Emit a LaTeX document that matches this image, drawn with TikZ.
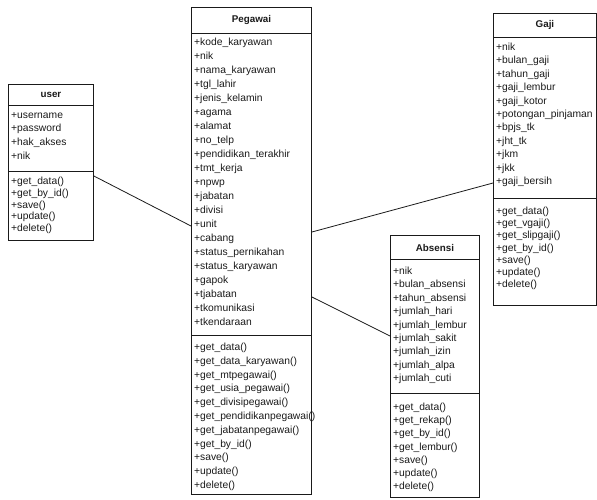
\documentclass[tikz,border=0pt]{standalone}
\usepackage{fontspec}
\setmainfont{Liberation Sans}
\usepackage{xcolor}
\usetikzlibrary{calc}
\definecolor{ink}{HTML}{1A1A1A}
\tikzset{
  cls/.style={draw=ink, line width=0.9pt, anchor=north west, inner sep=0pt},
  sep/.style={draw=ink, line width=0.9pt},
  assoc/.style={draw=ink, line width=0.8pt},
  head/.style={font=\bfseries\fontsize{9.8}{11}\selectfont, text=ink},
  lst/.style={anchor=north west, inner sep=0pt, align=left, text=ink,
    font=\fontsize{10.3}{#1}\selectfont, execute at begin node=\rule{0pt}{7.8pt}}
}

\begin{document}
\begin{tikzpicture}[x=1pt,y=-1pt]
  \useasboundingbox (0,0) rectangle (597,499);

  % class boxes
  \node[cls, minimum width=85pt,  minimum height=156pt] (user)    at (8,84)    {};
  \node[cls, minimum width=120pt, minimum height=487pt] (pegawai) at (191,7)   {};
  \node[cls, minimum width=103pt, minimum height=292pt] (gaji)    at (493,13)  {};
  \node[cls, minimum width=89pt,  minimum height=262pt] (absensi) at (390,235) {};

  % compartments
  \draw[sep] ($(user.north west)+(0,21)$) -- ($(user.north east)+(0,21)$);
  \draw[sep] ($(user.north west)+(0,87)$) -- ($(user.north east)+(0,87)$);
  \draw[sep] ($(pegawai.north west)+(0,26)$) -- ($(pegawai.north east)+(0,26)$);
  \draw[sep] ($(pegawai.north west)+(0,328)$) -- ($(pegawai.north east)+(0,328)$);
  \draw[sep] ($(gaji.north west)+(0,24)$) -- ($(gaji.north east)+(0,24)$);
  \draw[sep] ($(gaji.north west)+(0,185)$) -- ($(gaji.north east)+(0,185)$);
  \draw[sep] ($(absensi.north west)+(0,24)$) -- ($(absensi.north east)+(0,24)$);
  \draw[sep] ($(absensi.north west)+(0,158)$) -- ($(absensi.north east)+(0,158)$);

  % names
  \node[head] (user-t)    at ($(user.north)+(0,11)$)    {user};
  \node[head] (pegawai-t) at ($(pegawai.north)+(0,13)$) {Pegawai};
  \node[head] (gaji-t)    at ($(gaji.north)+(0,12)$)    {Gaji};
  \node[head] (absensi-t) at ($(absensi.north)+(0,13)$) {Absensi};

  % user
  \node[lst=13.9] (user-a) at (11,111.9) {+username\\+password\\+hak\_akses\\+nik};
  \node[lst=11.8] (user-m) at (11,176.9) {+get\_data()\\+get\_by\_id()\\+save()\\+update()\\+delete()};

  % pegawai
  \node[lst=14.0] (pegawai-a) at (194,37.9) {+kode\_karyawan\\+nik\\+nama\_karyawan\\+tgl\_lahir\\+jenis\_kelamin\\+agama\\+alamat\\+no\_telp\\+pendidikan\_terakhir\\+tmt\_kerja\\+npwp\\+jabatan\\+divisi\\+unit\\+cabang\\+status\_pernikahan\\+status\_karyawan\\+gapok\\+tjabatan\\+tkomunikasi\\+tkendaraan};
  \node[lst=13.8] (pegawai-m) at (194,342.9) {+get\_data()\\+get\_data\_karyawan()\\+get\_mtpegawai()\\+get\_usia\_pegawai()\\+get\_divisipegawai()\\+get\_pendidikanpegawai()\\+get\_jabatanpegawai()\\+get\_by\_id()\\+save()\\+update()\\+delete()};

  % gaji
  \node[lst=13.4] (gaji-a) at (496,42.9) {+nik\\+bulan\_gaji\\+tahun\_gaji\\+gaji\_lembur\\+gaji\_kotor\\+potongan\_pinjaman\\+bpjs\_tk\\+jht\_tk\\+jkm\\+jkk\\+gaji\_bersih};
  \node[lst=12.2] (gaji-m) at (496,206.9) {+get\_data()\\+get\_vgaji()\\+get\_slipgaji()\\+get\_by\_id()\\+save()\\+update()\\+delete()};

  % absensi
  \node[lst=13.4] (absensi-a) at (393,266.9) {+nik\\+bulan\_absensi\\+tahun\_absensi\\+jumlah\_hari\\+jumlah\_lembur\\+jumlah\_sakit\\+jumlah\_izin\\+jumlah\_alpa\\+jumlah\_cuti};
  \node[lst=13.2] (absensi-m) at (393,402.9) {+get\_data()\\+get\_rekap()\\+get\_by\_id()\\+get\_lembur()\\+save()\\+update()\\+delete()};

  % associations
  \coordinate (u1) at (user.east |- 0,176);
  \coordinate (p1) at (pegawai.west |- 0,226);
  \coordinate (p2) at (pegawai.east |- 0,232);
  \coordinate (g1) at (gaji.west |- 0,183);
  \coordinate (p3) at (pegawai.east |- 0,297);
  \coordinate (a1) at (absensi.west |- 0,336);
  \draw[assoc] (u1) -- (p1);
  \draw[assoc] (p2) -- (g1);
  \draw[assoc] (p3) -- (a1);
\end{tikzpicture}
\end{document}
